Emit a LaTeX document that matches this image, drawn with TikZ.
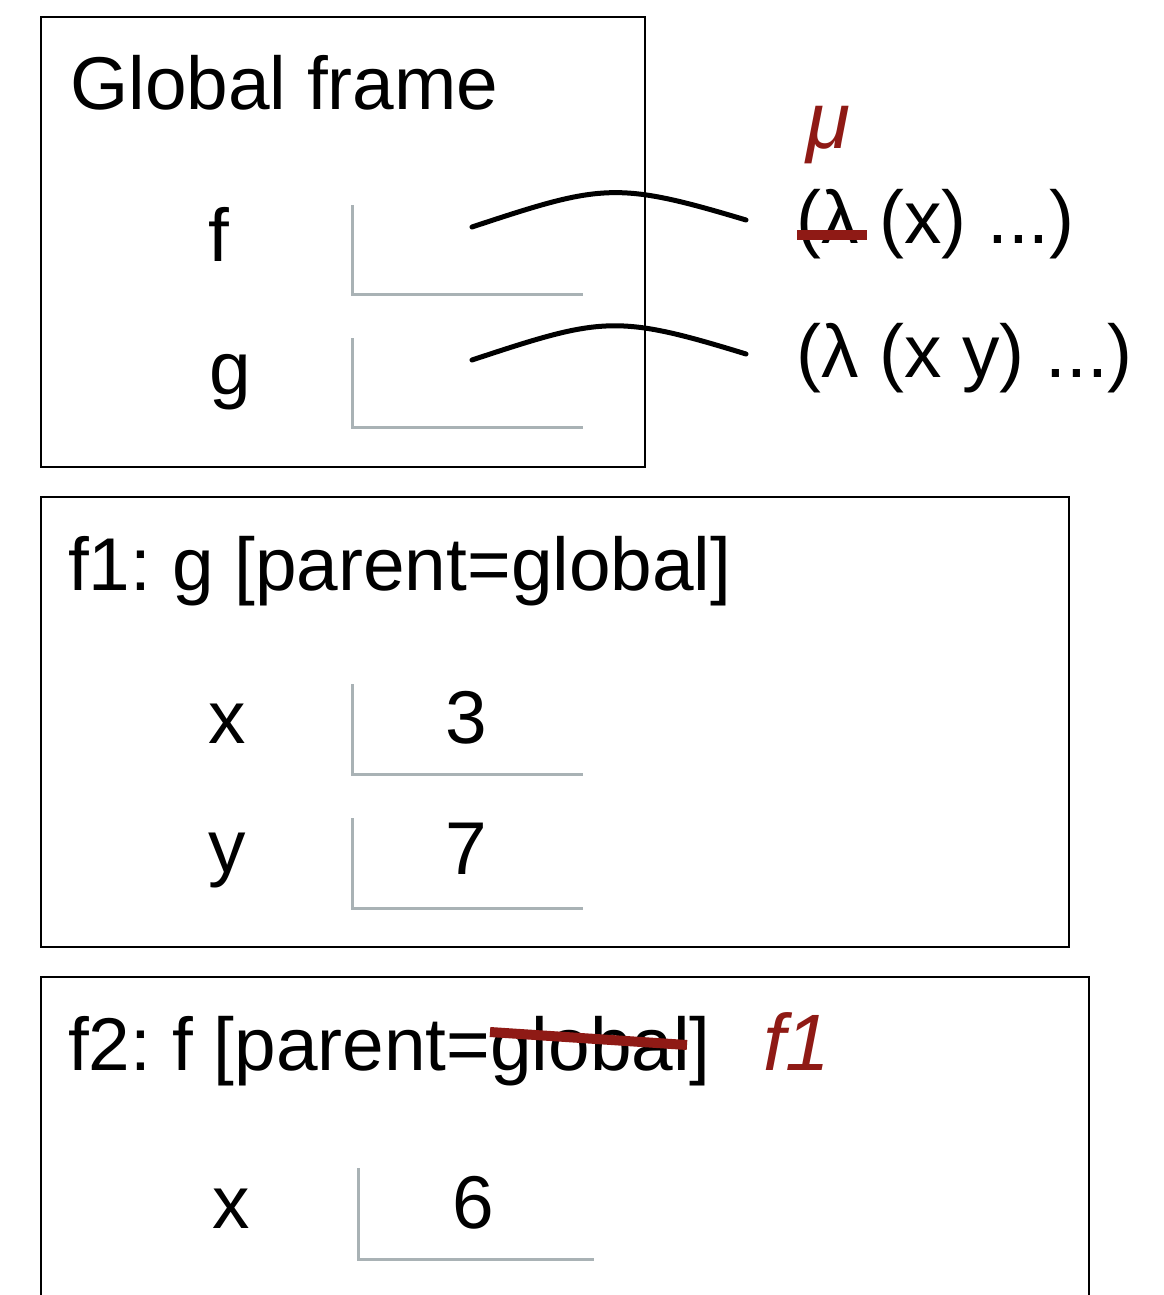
\documentclass[tikz,border=0pt]{standalone}
\usepackage{fontspec}
\setmainfont{Liberation Sans}
\definecolor{annot}{HTML}{8F1A15}
\definecolor{slotgray}{HTML}{A9B2B5}
\frenchspacing
\begin{document}
\begin{tikzpicture}[x=1pt,y=-1pt,
  lbl/.style={anchor=base west, inner sep=0pt, font=\fontsize{74.8}{80}\selectfont},
  annotlbl/.style={anchor=base west, inner sep=0pt, text=annot, font=\fontsize{80}{86}\selectfont\itshape},
  framebox/.style={draw=black, line width=2.5pt},
  slotline/.style={draw=slotgray, line width=3pt},
  link/.style={draw=black, line width=5pt, line cap=round},
  strike/.style={draw=annot, line width=10pt}
]
\clip (0,0) rectangle (1163,1295);
\fill[white] (0,0) rectangle (1163,1295);

% frames
\draw[framebox] (41,17) rectangle (645,467);
\draw[framebox] (41,497) rectangle (1069,947);
\draw[framebox] (41,1400) -- (41,977) -- (1089,977) -- (1089,1400);

% titles
\node[lbl] (gtitle) at (70,110) {Global frame};
\node[lbl] (f1title) at (68,590) {f1: g [parent=global]};
\node[lbl] (f2title) at (68,1070) {f2: f [parent=global]};

% global frame bindings
\node[lbl] (vf) at (208,261) {f};
\node[lbl] (vg) at (209,394) {g};
\draw[slotline] (352,205) -- (352,294) -- (583,294);
\draw[slotline] (352,338) -- (352,427) -- (583,427);

% f1 bindings
\node[lbl] (vx1) at (208,743) {x};
\node[lbl] (vy1) at (208,872) {y};
\node[lbl] (n3) at (445,743) {3};
\node[lbl] (n7) at (445,874) {7};
\draw[slotline] (352,684) -- (352,774) -- (583,774);
\draw[slotline] (352,818) -- (352,908) -- (583,908);

% f2 bindings
\node[lbl] (vx2) at (212,1228) {x};
\node[lbl] (n6) at (452,1228) {6};
\draw[slotline] (358,1168) -- (358,1259) -- (594,1259);

% lambda values
\node[lbl] (lamf) at (796,243) {(λ (x) ...)};
\node[lbl] (lamg) at (796,377) {(λ (x y) ...)};

% pointers
\coordinate (fs) at (472,227);
\coordinate (fe) at (746,220);
\coordinate (gs) at (472,360);
\coordinate (ge) at (746,354);
\draw[link] (fs) .. controls (602,184) and (616,181) .. (fe);
\draw[link] (gs) .. controls (602,317) and (616,314) .. (ge);

% annotations
\node[annotlbl] (mu) at (806,148) {μ};
\draw[strike] (797,235) -- (867,235);
\draw[strike] (490,1032) -- (687,1045);
\node[annotlbl] (f1ann) at (763,1070) {f1};
\end{tikzpicture}
\end{document}
